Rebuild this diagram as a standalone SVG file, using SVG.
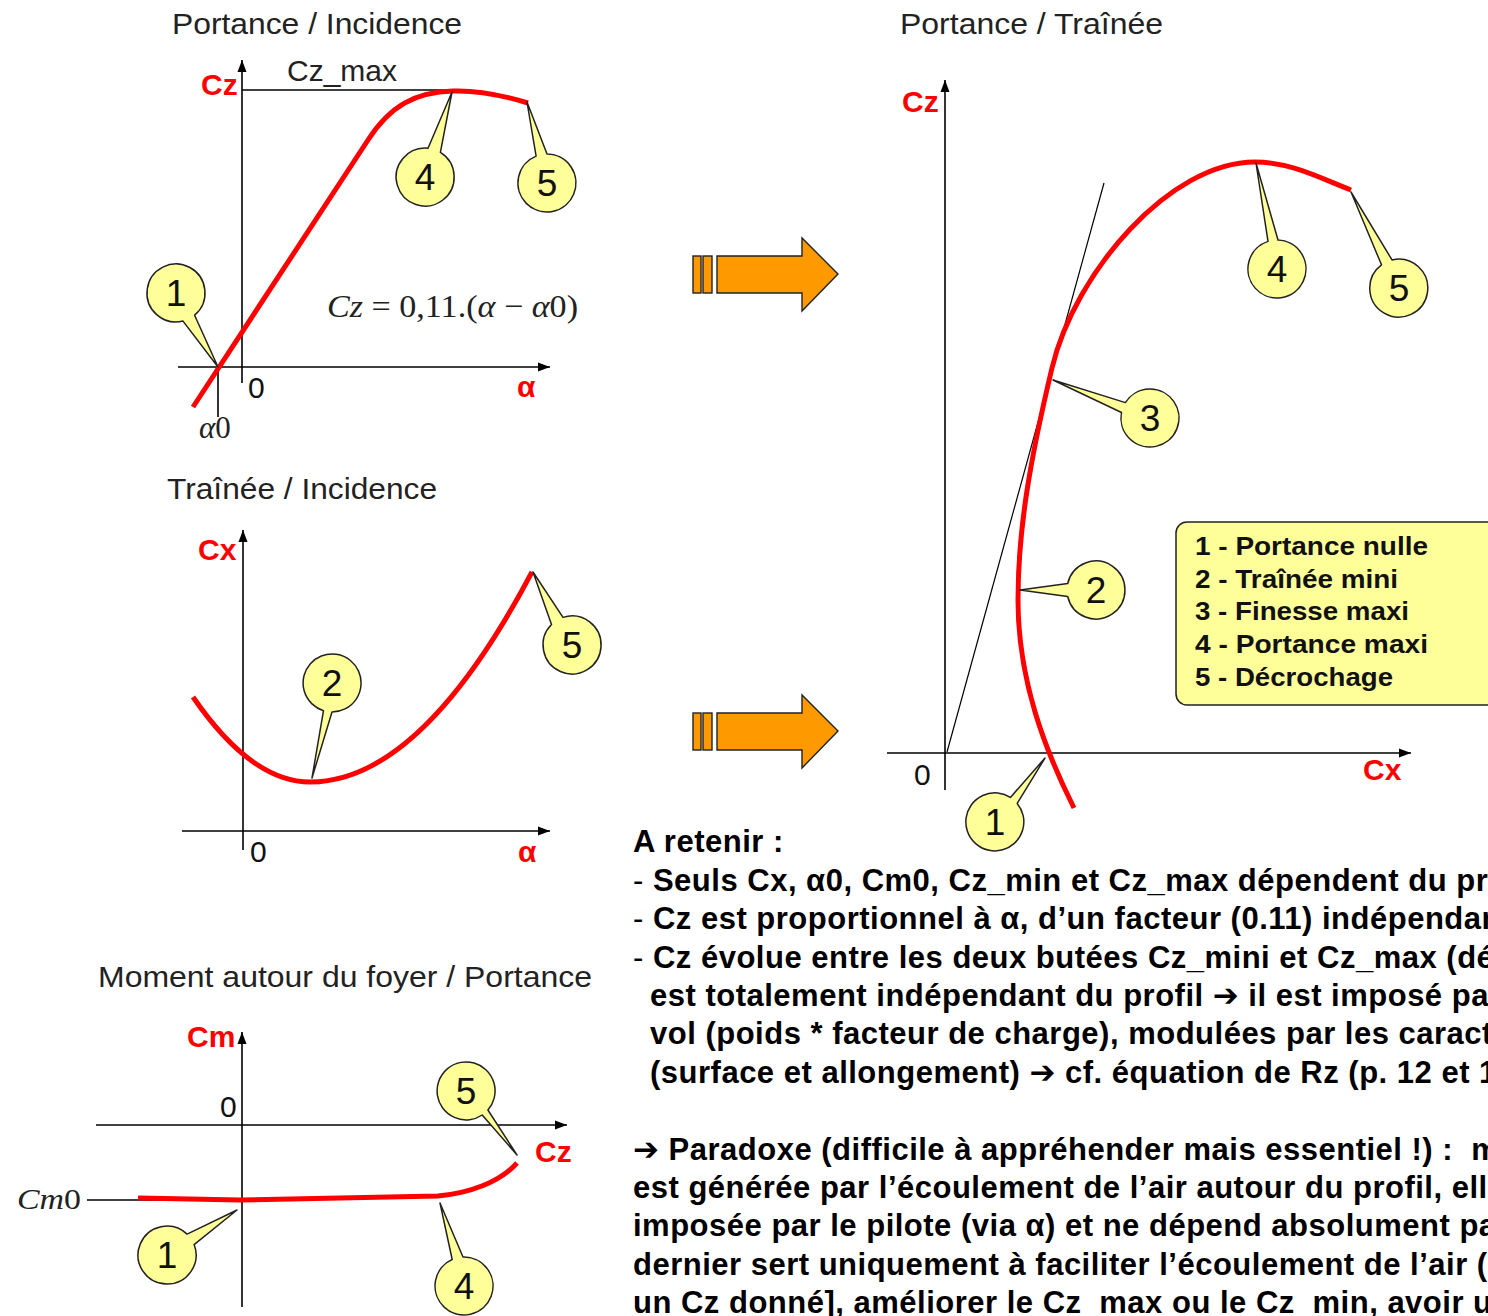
<svg xmlns="http://www.w3.org/2000/svg" width="1488" height="1316" viewBox="0 0 1488 1316">
<style>
.axis{stroke:#000;stroke-width:1.6;fill:none}
.thin{stroke:#000;stroke-width:1.2;fill:none}
.curve{stroke:#ff0000;stroke-width:5;fill:none;stroke-linejoin:round}
.call{fill:#ffff99;stroke:#222;stroke-width:1.5;stroke-linejoin:round}
.num{font-family:"Liberation Sans",Arial,sans-serif;font-size:37px;fill:#111;text-anchor:middle}
.title{font-family:"Liberation Sans",Arial,sans-serif;font-size:30px;fill:#222}
.lab{font-family:"Liberation Sans",Arial,sans-serif;font-size:30px;font-weight:bold;fill:#ff0000}
.zero{font-family:"Liberation Sans",Arial,sans-serif;font-size:30px;fill:#111}
.math{font-family:"Liberation Serif","Times New Roman",serif;fill:#222}
.leg{font-family:"Liberation Sans",Arial,sans-serif;font-size:25px;font-weight:bold;fill:#111}
.body{font-family:"Liberation Sans","DejaVu Sans",Arial,sans-serif;font-size:31px;font-weight:bold;fill:#000;letter-spacing:0.5px}
.arrow{fill:#ff9900;stroke:#222;stroke-width:1.4;stroke-linejoin:miter}
</style>
<defs>
<marker id="ah" markerWidth="12" markerHeight="10" refX="12" refY="5" orient="auto" markerUnits="userSpaceOnUse">
<path d="M0,0.5 L12,5 L0,9.5 Z" fill="#000"/>
</marker>
</defs>
<rect width="1488" height="1316" fill="#fff"/>

<!-- Chart 1: Portance / Incidence -->
<g id="chart-portance-incidence">
<text class="title" x="172" y="34" textLength="290" lengthAdjust="spacingAndGlyphs">Portance / Incidence</text>
<line class="axis" x1="242" y1="383" x2="242" y2="60" marker-end="url(#ah)"/>
<line class="axis" x1="178" y1="367" x2="550" y2="367" marker-end="url(#ah)"/>
<line class="axis" x1="242" y1="90" x2="453" y2="90"/>
<line class="axis" x1="218" y1="367" x2="218" y2="417"/>
<text class="title" x="287" y="81" font-size="28" textLength="110" lengthAdjust="spacingAndGlyphs">Cz_max</text>
<text class="lab" x="201" y="95">Cz</text>
<text class="zero" x="248" y="398">0</text>
<text class="lab" x="517" y="397">α</text>
<text class="math" x="199" y="438" font-size="31"><tspan font-style="italic">α</tspan>0</text>
<text class="math" x="327" y="317" font-size="32" textLength="251" lengthAdjust="spacingAndGlyphs"><tspan font-style="italic">Cz</tspan> = 0,11.(<tspan font-style="italic">α</tspan> − <tspan font-style="italic">α</tspan>0)</text>
<path class="curve" d="M193,407 L368,140 C390,106 415,92 453,91 C480,90 505,96 528,103"/>
</g>

<!-- Chart 2: Trainee / Incidence -->
<g id="chart-trainee-incidence">
<text class="title" x="167" y="499" textLength="270" lengthAdjust="spacingAndGlyphs">Traînée / Incidence</text>
<line class="axis" x1="243" y1="850" x2="243" y2="530" marker-end="url(#ah)"/>
<line class="axis" x1="182" y1="831" x2="550" y2="831" marker-end="url(#ah)"/>
<text class="lab" x="198" y="560">Cx</text>
<text class="zero" x="250" y="862">0</text>
<text class="lab" x="518" y="862">α</text>
<path class="curve" d="M193,697 Q251.5,782 310,782 Q421,782 532,572"/>
</g>

<!-- Chart 3: Moment autour du foyer / Portance -->
<g id="chart-moment-portance">
<text class="title" x="98" y="987" textLength="494" lengthAdjust="spacingAndGlyphs">Moment autour du foyer / Portance</text>
<line class="axis" x1="242" y1="1307" x2="242" y2="1032" marker-end="url(#ah)"/>
<line class="axis" x1="96" y1="1125" x2="567" y2="1125" marker-end="url(#ah)"/>
<line class="axis" x1="87" y1="1200" x2="242" y2="1200"/>
<text class="lab" x="187" y="1047" font-size="28">Cm</text>
<text class="zero" x="220" y="1117">0</text>
<text class="lab" x="535" y="1162">Cz</text>
<text class="math" x="17" y="1209" font-size="29" textLength="64" lengthAdjust="spacingAndGlyphs"><tspan font-style="italic">Cm</tspan>0</text>
<path class="curve" d="M138,1198 L240,1200 L438,1196 C470,1193 500,1182 517,1163"/>
</g>

<!-- Chart 4: Portance / Trainee -->
<g id="chart-portance-trainee">
<text class="title" x="900" y="34" textLength="263" lengthAdjust="spacingAndGlyphs">Portance / Traînée</text>
<line class="axis" x1="945" y1="790" x2="945" y2="80" marker-end="url(#ah)"/>
<line class="axis" x1="887" y1="753" x2="1411" y2="753" marker-end="url(#ah)"/>
<line class="thin" x1="947" y1="752" x2="1104" y2="183"/>
<text class="lab" x="902" y="112">Cz</text>
<text class="zero" x="914" y="785">0</text>
<text class="lab" x="1363" y="780">Cx</text>
<path class="curve" stroke-width="4.5" d="M1074,808 C1045,750 1018,680 1018,600 C1018,530 1030,460 1052,368 C1075,272 1170,162 1255,162 C1290,162 1320,178 1351,190"/>
</g>

<!-- Callouts chart 1 -->
<g id="callout-c1-1"><path class="call" d="M194.6,315.2 L218,367 L183.0,321.1 A29,29 0 1 1 194.6,315.2 Z"/><text class="num" x="176" y="306">1</text></g>
<g id="callout-c1-4"><path class="call" d="M428.0,148.2 L452,92 L440.4,152.4 A29,29 0 1 1 428.0,148.2 Z"/><text class="num" x="425" y="190">4</text></g>
<g id="callout-c1-5"><path class="call" d="M536.1,156.1 L527,102 L547.0,154.0 A29,29 0 1 1 536.1,156.1 Z"/><text class="num" x="547" y="196">5</text></g>
<!-- Callouts chart 2 -->
<g id="callout-c2-2"><path class="call" d="M332,712 L312,778 L323.5,710.7 A29,29 0 1 1 332,712 Z"/><text class="num" x="332" y="696">2</text></g>
<g id="callout-c2-5"><path class="call" d="M551.5,624.5 L533,572 L563.0,617.4 A29,29 0 1 1 551.5,624.5 Z"/><text class="num" x="572" y="658">5</text></g>
<!-- Callouts chart 3 -->
<g id="callout-c3-1"><path class="call" d="M187.1,1234.1 L237,1210 L194.1,1244.6 A29,29 0 1 1 187.1,1234.1 Z"/><text class="num" x="167" y="1268">1</text></g>
<g id="callout-c3-4"><path class="call" d="M452.2,1259.5 L440,1203 L463.0,1257.0 A29,29 0 1 1 452.2,1259.5 Z"/><text class="num" x="464" y="1299">4</text></g>
<g id="callout-c3-5"><path class="call" d="M487.9,1110.0 L517,1155 L482.2,1115.0 A29,29 0 1 1 487.9,1110.0 Z"/><text class="num" x="466" y="1104">5</text></g>
<!-- Callouts chart 4 -->
<g id="callout-c4-1"><path class="call" d="M1010.4,797.4 L1045,758 L1017.2,803.4 A29,29 0 1 1 1010.4,797.4 Z"/><text class="num" x="995" y="835">1</text></g>
<g id="callout-c4-2"><path class="call" d="M1067.7,596.5 L1020,590 L1067.7,583.5 A29,29 0 1 1 1067.7,596.5 Z"/><text class="num" x="1096" y="603">2</text></g>
<g id="callout-c4-3"><path class="call" d="M1121.5,412.5 L1053,380 L1125.4,402.6 A29,29 0 1 1 1121.5,412.5 Z"/><text class="num" x="1150" y="431">3</text></g>
<g id="callout-c4-4"><path class="call" d="M1268.0,241.4 L1256,163 L1278.0,240.0 A29,29 0 1 1 1268.0,241.4 Z"/><text class="num" x="1277" y="282">4</text></g>
<g id="callout-c4-5"><path class="call" d="M1381.5,264.8 L1351,192 L1392.0,259.9 A29,29 0 1 1 1381.5,264.8 Z"/><text class="num" x="1399" y="301">5</text></g>

<!-- Legend -->
<g id="legend">
<rect x="1176" y="522" width="340" height="183" rx="11" ry="11" fill="#ffff99" stroke="#222" stroke-width="1.5"/>
<text class="leg" x="1195" y="555" textLength="233" lengthAdjust="spacingAndGlyphs">1 - Portance nulle</text>
<text class="leg" x="1195" y="588" textLength="203" lengthAdjust="spacingAndGlyphs">2 - Traînée mini</text>
<text class="leg" x="1195" y="620" textLength="214" lengthAdjust="spacingAndGlyphs">3 - Finesse maxi</text>
<text class="leg" x="1195" y="653" textLength="233" lengthAdjust="spacingAndGlyphs">4 - Portance maxi</text>
<text class="leg" x="1195" y="686" textLength="198" lengthAdjust="spacingAndGlyphs">5 - Décrochage</text>
</g>

<!-- Connectors: orange arrows -->
<g id="connectors">
<g id="arrow-top">
<rect class="arrow" x="693" y="256" width="8" height="37"/>
<rect class="arrow" x="703" y="256" width="9" height="37"/>
<path class="arrow" d="M717,256 L802,256 L802,238 L838,274 L802,311 L802,293 L717,293 Z"/>
</g>
<g id="arrow-bottom">
<rect class="arrow" x="693" y="713" width="8" height="37"/>
<rect class="arrow" x="703" y="713" width="9" height="37"/>
<path class="arrow" d="M717,713 L802,713 L802,695 L838,731 L802,768 L802,750 L717,750 Z"/>
</g>
</g>

<!-- Text block -->
<g id="text-a-retenir">
<text class="body" x="633" y="852">A retenir :</text>
<text class="body" x="633" y="891"><tspan font-weight="normal">- </tspan>Seuls Cx, α0, Cm0, Cz_min et Cz_max dépendent du pr</text>
<text class="body" x="633" y="929"><tspan font-weight="normal">- </tspan>Cz est proportionnel à α, d’un facteur (0.11) indépendan</text>
<text class="body" x="633" y="968"><tspan font-weight="normal">- </tspan>Cz évolue entre les deux butées Cz_mini et Cz_max (dé</text>
<text class="body" x="650" y="1006">est totalement indépendant du profil ➔ il est imposé pa</text>
<text class="body" x="650" y="1044">vol (poids * facteur de charge), modulées par les caract</text>
<text class="body" x="650" y="1083">(surface et allongement) ➔ cf. équation de Rz (p. 12 et 1</text>
<text class="body" x="633" y="1160">➔ Paradoxe (difficile à appréhender mais essentiel !) :&#160; m</text>
<text class="body" x="633" y="1198">est générée par l’écoulement de l’air autour du profil, elle</text>
<text class="body" x="633" y="1236">imposée par le pilote (via α) et ne dépend absolument pa</text>
<text class="body" x="633" y="1275">dernier sert uniquement à faciliter l’écoulement de l’air (p</text>
<text class="body" x="633" y="1313">un Cz donné], améliorer le Cz_max ou le Cz_min, avoir u</text>
</g>
</svg>
